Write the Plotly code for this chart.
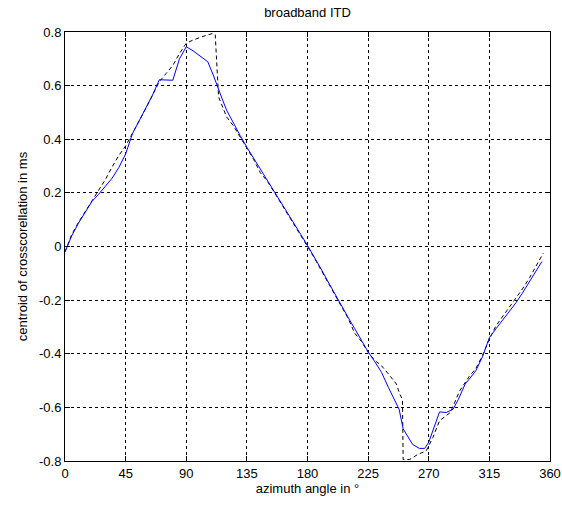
import plotly.graph_objects as go

# measured (blue, solid)
az_meas = [0, 5, 10, 15, 20, 25, 30, 35, 40, 45, 50, 55, 60, 65, 70, 75, 80, 85, 90,
           95, 100, 106, 110, 113, 117, 120, 125, 130, 135, 140, 145, 150, 155, 160,
           165, 170, 175, 180, 185, 190, 195, 200, 205, 210, 215, 220, 225, 230, 235,
           240, 245, 248, 251, 255, 258, 263, 267, 270, 273, 278, 283, 288, 292, 297,
           300, 305, 310, 315, 320, 325, 330, 335, 340, 345, 350, 354]
itd_meas = [-0.02, 0.04, 0.087, 0.13, 0.168, 0.195, 0.225, 0.255, 0.295, 0.345, 0.42,
            0.47, 0.515, 0.565, 0.622, 0.62, 0.62, 0.70, 0.745, 0.73, 0.71, 0.689,
            0.64, 0.596, 0.546, 0.508, 0.459, 0.414, 0.37, 0.33, 0.29, 0.25, 0.21,
            0.168, 0.127, 0.086, 0.045, 0.004, -0.037, -0.083, -0.129, -0.175, -0.219,
            -0.263, -0.306, -0.35, -0.393, -0.43, -0.47, -0.525, -0.578, -0.607,
            -0.68, -0.715, -0.738, -0.753, -0.753, -0.73, -0.69, -0.617, -0.619,
            -0.607, -0.57, -0.513, -0.495, -0.463, -0.41, -0.34, -0.306, -0.273,
            -0.24, -0.208, -0.17, -0.129, -0.088, -0.056]

# model (black, dashed)
az_model = [0, 5, 10, 15, 20, 25, 30, 35, 40, 45, 50, 55, 60, 65, 70, 75, 80, 85, 90,
            95, 100, 105, 110, 111.5, 114, 120, 125, 130, 135, 140, 145, 150, 155, 160,
            165, 170, 175, 180, 185, 190, 195, 200, 205, 210, 215, 220, 225, 230, 235,
            240, 246, 248.5, 250.5, 251, 256, 262, 268, 273, 278, 286, 293, 300, 305,
            310, 315, 320, 325, 330, 335, 340, 345, 350, 355]
itd_model = [-0.02, 0.045, 0.09, 0.13, 0.17, 0.21, 0.25, 0.297, 0.34, 0.375, 0.42,
             0.47, 0.515, 0.565, 0.615, 0.645, 0.675, 0.72, 0.758, 0.77, 0.78, 0.788,
             0.795, 0.79, 0.558, 0.483, 0.45, 0.41, 0.37, 0.325, 0.275, 0.245, 0.205,
             0.165, 0.125, 0.085, 0.045, 0.0, -0.042, -0.088, -0.133, -0.178, -0.222,
             -0.266, -0.323, -0.354, -0.395, -0.425, -0.445, -0.475, -0.513, -0.551,
             -0.57, -0.795, -0.794, -0.775, -0.763, -0.713, -0.65, -0.619, -0.538,
             -0.485, -0.455, -0.405, -0.345, -0.295, -0.26, -0.225, -0.19, -0.155,
             -0.115, -0.07, -0.025]

x_ticks = [0, 45, 90, 135, 180, 225, 270, 315, 360]
y_ticks = [-0.8, -0.6, -0.4, -0.2, 0, 0.2, 0.4, 0.6, 0.8]
y_labels = ["-0.8", "-0.6", "-0.4", "-0.2", "0", "0.2", "0.4", "0.6", "0.8"]

font = "Liberation Sans, Arial, sans-serif"

fig = go.Figure()
fig.add_trace(go.Scatter(x=az_model, y=itd_model, mode="lines",
                         line=dict(color="black", width=1, dash="4px,3px"),
                         showlegend=False))
fig.add_trace(go.Scatter(x=az_meas, y=itd_meas, mode="lines",
                         line=dict(color="#0000FF", width=1),
                         showlegend=False))

axis_common = dict(
    showline=True, linecolor="black", linewidth=1, mirror="ticks",
    ticks="inside", ticklen=5, tickcolor="black",
    showgrid=True, gridcolor="black", gridwidth=1, griddash="3px,3px",
    zeroline=False, tickfont=dict(family=font, size=13, color="black"),
)

fig.update_layout(
    width=562, height=506,
    paper_bgcolor="white", plot_bgcolor="white",
    margin=dict(l=65, r=12, t=32, b=45, autoexpand=False),
    title=dict(text="broadband ITD", x=(65 + 550) / 2 / 562, xanchor="center",
               y=1 - 12 / 506, yanchor="middle", yref="container",
               font=dict(family=font, size=13, color="black")),
    font=dict(family=font, size=13, color="black"),
)
fig.update_xaxes(range=[0, 360], tickvals=x_ticks, **axis_common,
                 title=dict(text="azimuth angle in °", standoff=4,
                            font=dict(family=font, size=13, color="black")))
fig.update_yaxes(range=[-0.8, 0.8], tickvals=y_ticks, ticktext=y_labels, **axis_common,
                 title=dict(text="centroid of crosscorellation in ms", standoff=8,
                            font=dict(family=font, size=13, color="black")))

fig.write_html("out.html", config={"displayModeBar": False},
               post_script="document.body.style.margin='0';document.body.style.overflow='hidden';")
